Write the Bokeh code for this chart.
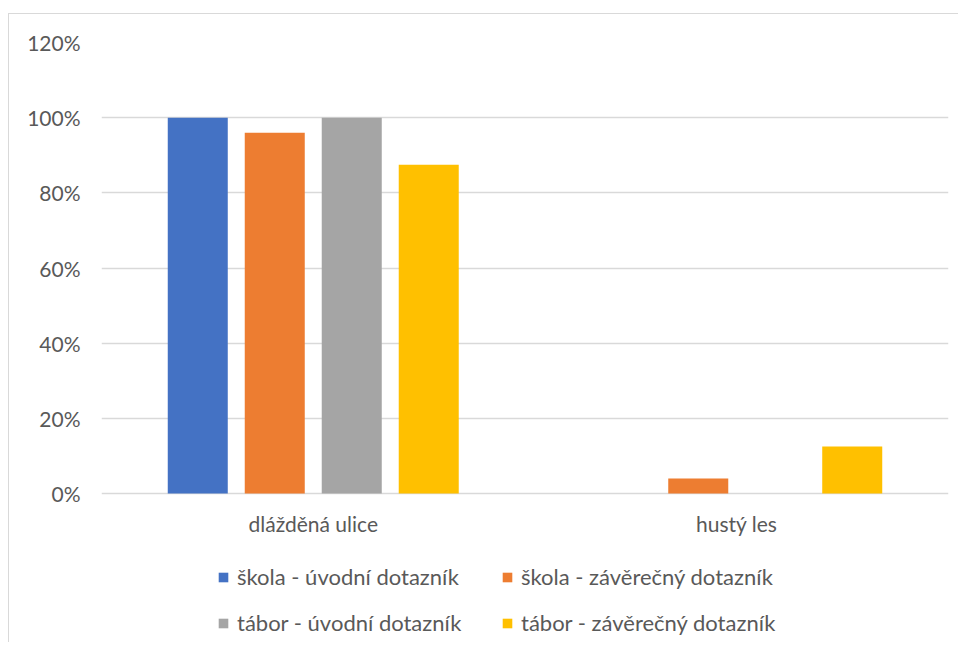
from bokeh.plotting import figure
from bokeh.models import FactorRange, Range1d, NumeralTickFormatter, Legend, LegendItem, FixedTicker, ColumnDataSource
from bokeh.core.properties import value
from bokeh.transform import dodge
from bokeh.embed import file_html
from bokeh.resources import INLINE

categories = ["dlážděná ulice", "hustý les"]
series_names = ["škola - úvodní dotazník", "škola - závěrečný dotazník",
                "tábor - úvodní dotazník", "tábor - závěrečný dotazník"]
skola_uvodni = [1.00, 0.0]
skola_zaverecny = [0.96, 0.04]
tabor_uvodni = [1.00, 0.0]
tabor_zaverecny = [0.875, 0.125]
y_ticks = [0, 0.2, 0.4, 0.6, 0.8, 1.0, 1.2]

colors = ["#4472C4", "#ED7D31", "#A5A5A5", "#FFC000"]
FONT = "Lato"
TXT = "#595959"
LINE = "#d9d9d9"

# layout (screen pixels)
FIG_W, FIG_H = 958, 642
TOP, ZERO_PX, LEFT, RIGHT_PAD = 42, 493, 101, 10
Y_MAX = 1.2
px_per_unit = (ZERO_PX - TOP) / Y_MAX
y_min = Y_MAX - (FIG_H - TOP) / px_per_unit
label_y = -30 / px_per_unit

source = ColumnDataSource(dict(cat=categories, s0=skola_uvodni, s1=skola_zaverecny,
                               s2=tabor_uvodni, s3=tabor_zaverecny,
                               ly=[label_y] * len(categories)))

p = figure(x_range=FactorRange(*categories, range_padding=0), y_range=Range1d(y_min, Y_MAX),
           width=FIG_W, height=FIG_H, output_backend="svg", toolbar_location=None,
           min_border_left=LEFT, min_border_right=RIGHT_PAD, min_border_top=TOP,
           min_border_bottom=0)
grad = f"linear-gradient({LINE},{LINE})"
p.styles = {"background": f"{grad} 8px 13px / calc(100% - 8px) 1px no-repeat, "
                          f"{grad} 8px 13px / 1px calc(100% - 13px) no-repeat, white"}
p.outline_line_color = None
p.background_fill_alpha = 0
p.border_fill_alpha = 0

offsets = [-0.2727, -0.0909, 0.0909, 0.2727]
bar_w = 0.1417
renderers = []
for i, key in enumerate(["s0", "s1", "s2", "s3"]):
    r = p.vbar(x=dodge("cat", offsets[i], range=p.x_range), top=key, bottom=0, width=bar_w,
               source=source, fill_color=colors[i], line_color=None)
    renderers.append(r)

# category labels under the zero line
p.text(x="cat", y="ly", text="cat", source=source, text_align="center",
       text_baseline="middle", text_font=value(FONT), text_font_size="21px",
       text_color=TXT)

p.xaxis.visible = False
p.xgrid.grid_line_color = None
p.ygrid.grid_line_color = LINE
p.ygrid.grid_line_width = 1.3
p.yaxis.ticker = FixedTicker(ticks=y_ticks)
p.yaxis.formatter = NumeralTickFormatter(format="0%")
p.yaxis.axis_line_color = None
p.yaxis.major_tick_line_color = None
p.yaxis.minor_tick_line_color = None
p.yaxis.major_label_text_font = FONT
p.yaxis.major_label_text_font_size = "21px"
p.yaxis.major_label_text_color = TXT
p.yaxis.major_label_standoff = 15

items = [LegendItem(label=series_names[i], renderers=[renderers[i]]) for i in range(4)]
legend = Legend(items=items, location=(116, 6), orientation="horizontal", ncols=2,
                label_text_font=FONT, label_text_font_size="22px", label_text_color=TXT,
                glyph_width=12, glyph_height=12, label_standoff=8, spacing=19,
                label_width=245, padding=0, margin=0, border_line_color=None,
                background_fill_alpha=0)
p.add_layout(legend, "center")

open("out.html", "w").write(file_html(p, INLINE))
